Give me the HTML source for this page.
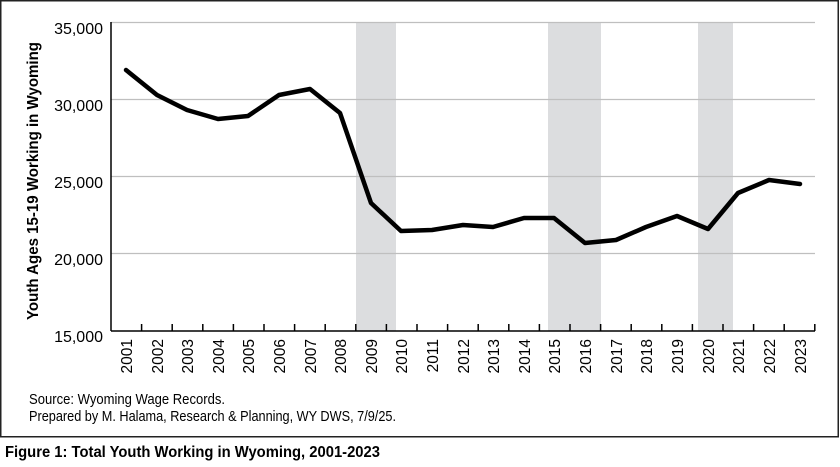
<!DOCTYPE html>
<html><head><meta charset="utf-8"><style>
body{margin:0;background:#fff;}
svg{display:block;}
</style></head><body>
<svg width="840" height="467" xmlns="http://www.w3.org/2000/svg" font-family="Liberation Sans, sans-serif">
<rect x="0.75" y="0.75" width="837.5" height="436" fill="#fff" stroke="#222" stroke-width="1.5"/>
<rect x="356" y="22" width="40" height="309" fill="#dcdddf"/>
<rect x="548" y="22" width="53" height="309" fill="#dcdddf"/>
<rect x="698" y="22" width="35" height="309" fill="#dcdddf"/>
<g stroke="#bfbfbf" stroke-width="1.3">
<line x1="111" y1="22.5" x2="815" y2="22.5"/>
<line x1="111" y1="99.5" x2="815" y2="99.5"/>
<line x1="111" y1="176.5" x2="815" y2="176.5"/>
<line x1="111" y1="253.5" x2="815" y2="253.5"/>
</g>
<g stroke="#000" stroke-width="1.5">
<line x1="111" y1="22" x2="111" y2="331"/>
<line x1="111" y1="331" x2="815" y2="331"/>
<path d="M141.6 331v-7M172.2 331v-7M202.8 331v-7M233.4 331v-7M264 331v-7M294.6 331v-7M325.2 331v-7M355.8 331v-7M386.4 331v-7M417 331v-7M447.6 331v-7M478.2 331v-7M508.8 331v-7M539.4 331v-7M570 331v-7M600.6 331v-7M631.2 331v-7M661.8 331v-7M692.4 331v-7M723 331v-7M753.6 331v-7M784.2 331v-7M814.8 331v-7"/>
</g>
<polyline fill="none" stroke="#000" stroke-width="4.5" stroke-linejoin="round" stroke-linecap="round" points="126,70 157,95 187,110 218,119 248,116 279,95 310,89 340,113 371,203 401,231 432,230 463,225 493,227 524,218 554,218 585,243 616,240 646,227 677,216 708,229 738,193 769,180 800,184"/>
<g font-size="16" text-anchor="end" fill="#000">
<text x="103" y="34">35,000</text>
<text x="103" y="111">30,000</text>
<text x="103" y="188">25,000</text>
<text x="103" y="265">20,000</text>
<text x="103" y="342">15,000</text>
</g>
<text transform="translate(38,320) rotate(-90)" font-size="16" font-weight="bold" textLength="278" lengthAdjust="spacingAndGlyphs">Youth Ages 15-19 Working in Wyoming</text>
<g font-size="15.5" text-anchor="end">
<text transform="translate(132,339) rotate(-90)">2001</text>
<text transform="translate(163,339) rotate(-90)">2002</text>
<text transform="translate(193,339) rotate(-90)">2003</text>
<text transform="translate(224,339) rotate(-90)">2004</text>
<text transform="translate(254,339) rotate(-90)">2005</text>
<text transform="translate(285,339) rotate(-90)">2006</text>
<text transform="translate(316,339) rotate(-90)">2007</text>
<text transform="translate(346,339) rotate(-90)">2008</text>
<text transform="translate(377,339) rotate(-90)">2009</text>
<text transform="translate(407,339) rotate(-90)">2010</text>
<text transform="translate(438,339) rotate(-90)">2011</text>
<text transform="translate(469,339) rotate(-90)">2012</text>
<text transform="translate(499,339) rotate(-90)">2013</text>
<text transform="translate(530,339) rotate(-90)">2014</text>
<text transform="translate(560,339) rotate(-90)">2015</text>
<text transform="translate(591,339) rotate(-90)">2016</text>
<text transform="translate(622,339) rotate(-90)">2017</text>
<text transform="translate(652,339) rotate(-90)">2018</text>
<text transform="translate(683,339) rotate(-90)">2019</text>
<text transform="translate(714,339) rotate(-90)">2020</text>
<text transform="translate(744,339) rotate(-90)">2021</text>
<text transform="translate(775,339) rotate(-90)">2022</text>
<text transform="translate(806,339) rotate(-90)">2023</text>
</g>
<text x="29" y="404" font-size="14.5" textLength="196" lengthAdjust="spacingAndGlyphs">Source: Wyoming Wage Records.</text>
<text x="29" y="421" font-size="14.5" textLength="367" lengthAdjust="spacingAndGlyphs">Prepared by M. Halama, Research &amp; Planning, WY DWS, 7/9/25.</text>
<text x="5" y="457" font-size="15.5" font-weight="bold" textLength="375" lengthAdjust="spacingAndGlyphs">Figure 1: Total Youth Working in Wyoming, 2001-2023</text>
</svg>
</body></html>
